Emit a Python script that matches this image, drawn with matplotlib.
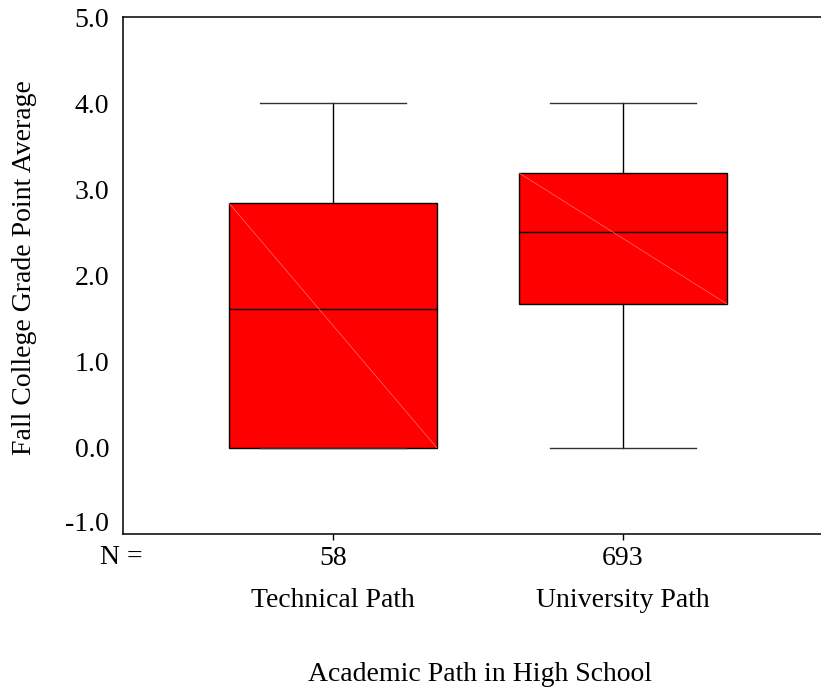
import matplotlib
matplotlib.use("Agg")
import matplotlib.pyplot as plt
from matplotlib.transforms import offset_copy

# five-number summaries
categories = ["Technical Path", "University Path"]
counts = [58, 693]
whisker_low = [0.0, 0.0]
q1 = [0.0, 1.67]
median = [1.61, 2.51]
q3 = [2.84, 3.19]
whisker_high = [4.0, 4.0]

y_ticks = [-1.0, 0.0, 1.0, 2.0, 3.0, 4.0, 5.0]

plt.rcParams['font.family'] = ['Liberation Serif', 'DejaVu Serif']
plt.rcParams['font.size'] = 20

fig = plt.figure(figsize=(8.21, 6.89), dpi=100)
ax = fig.add_axes([123 / 821, 1 - 534 / 689, 1 - 123 / 821, 517 / 689])

positions = list(range(1, len(categories) + 1))
stats = []
for i in range(len(categories)):
    stats.append({
        "med": median[i], "q1": q1[i], "q3": q3[i],
        "whislo": whisker_low[i], "whishi": whisker_high[i],
        "fliers": [], "label": str(counts[i]),
    })

box_w = 0.717
ax.bxp(stats, positions=positions, widths=box_w, patch_artist=True,
       showfliers=False,
       boxprops=dict(facecolor="#ff0000", edgecolor="black", linewidth=1.0),
       medianprops=dict(color="black", linewidth=1.0),
       whiskerprops=dict(color="black", linewidth=1.0),
       capprops=dict(color="#333333", linewidth=1.0),
       capwidths=0.503)

# faint diagonal seam visible inside each filled box
for p, lo, hi in zip(positions, q1, q3):
    ax.plot([p - box_w / 2, p + box_w / 2], [hi, lo], color="#ff7070",
            linewidth=0.5, zorder=3)

ax.set_xlim(0.276, 2.683)
ax.set_ylim(-1.0, 5.0)
ax.set_yticks(y_ticks)
ax.set_yticklabels([f"{v:.1f}" for v in y_ticks])
ax.set_xticks(positions)
ax.set_xticklabels([str(c) for c in counts])

ax.spines['right'].set_visible(False)
for s in ['left', 'bottom', 'top']:
    ax.spines[s].set_linewidth(1.1)

ax.tick_params(axis='y', length=0, pad=10)
ax.tick_params(axis='x', length=4.3, width=1.0, direction='out', pad=4)

# the bottom tick label sits a little higher than the rest
lbl = ax.get_yticklabels()[0]
lbl.set_transform(offset_copy(lbl.get_transform(), fig=fig, x=0, y=9, units='points'))

ax.annotate("N =", xy=(0, 0), xycoords='axes fraction', xytext=(-1.5, -16.6),
            textcoords='offset points', ha='center', va='center')
for p, name in zip(positions, categories):
    ax.annotate(name, xy=(p, 0), xycoords=('data', 'axes fraction'),
                xytext=(0, -48), textcoords='offset points',
                ha='center', va='center')

ax.set_xlabel("Academic Path in High School")
ax.xaxis.set_label_coords(0.511, -0.271)
ax.xaxis.label.set_va('center')
ax.set_ylabel("Fall College Grade Point Average")
ax.yaxis.set_label_coords(-0.141, 0.515)
ax.yaxis.label.set_va('center')

fig.savefig("out.png", dpi=100)
